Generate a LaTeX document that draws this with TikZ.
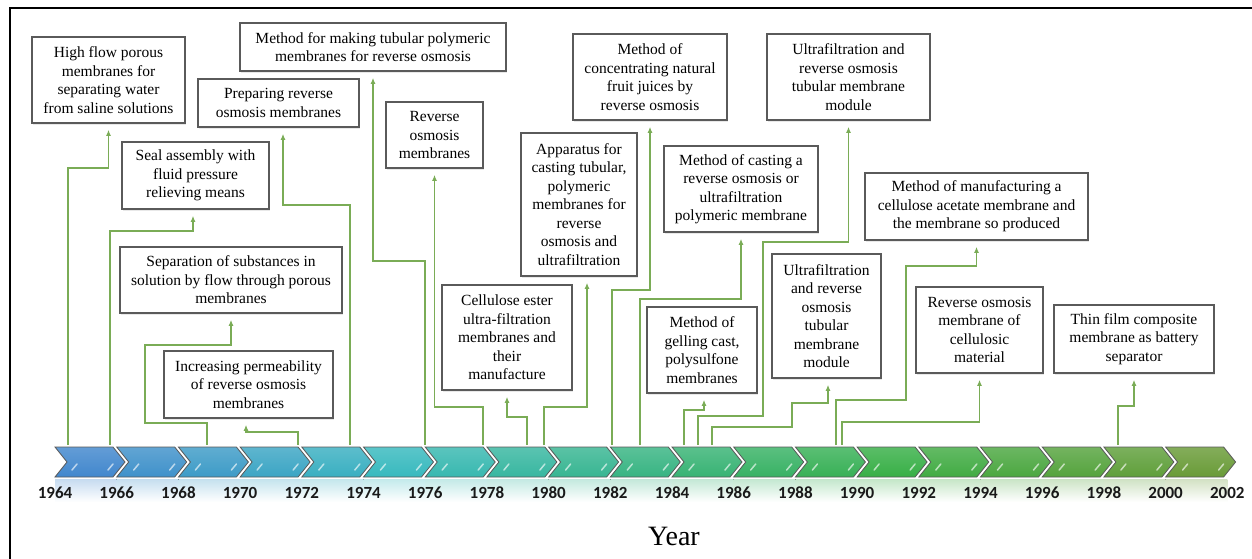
\documentclass[tikz,border=0pt]{standalone}
\usepackage{fontspec}
\setmainfont{Liberation Serif}
\newfontfamily\yearfont{Carlito}
\usetikzlibrary{arrows.meta,shadows}

\definecolor{tlblue}{RGB}{65,135,205}
\definecolor{tlteal}{RGB}{55,185,190}
\definecolor{tlgreen}{RGB}{55,175,70}
\definecolor{tlolive}{RGB}{105,155,55}
\definecolor{linkgreen}{RGB}{122,172,86}
\definecolor{boxgray}{RGB}{90,90,90}

\tikzset{
  pbox/.style={draw=boxgray,line width=1.6pt,fill=white,align=center,inner sep=2pt,
    font={\rmfamily\fontsize{15.5}{18.5}\selectfont},
    drop shadow={opacity=0.18,shadow xshift=1.2pt,shadow yshift=-1.5pt}},
  conn/.style={draw=linkgreen,line width=1.6pt,-{Latex[length=6pt,width=5pt]},shorten >=6pt},
  yrlbl/.style={font={\yearfont\bfseries\fontsize{17}{17}\selectfont},text=black!90}
}

\begin{document}
\begin{tikzpicture}[x=1pt,y=-1pt]

\useasboundingbox (0,0) rectangle (1252,558);
\draw[line width=2.5pt] (10,580) -- (10,8) -- (1260,8);

\foreach \k in {0,...,18}
	{\pgfmathsetmacro\x{55+61.7*\k}
	\pgfmathtruncatemacro\p{min(100,\k*20)}
	\pgfmathtruncatemacro\q{min(100,max(0,(\k-5)*12.5))}
	\pgfmathtruncatemacro\r{max(0,(\k-13)*20)}
	\colorlet{ca}{tlteal!\p!tlblue}
	\colorlet{cb}{tlgreen!\q!ca}
	\colorlet{cc}{tlolive!\r!cb}
	\fill[top color=cc!30!white,bottom color=white] (\x,479) rectangle (\x+61.7,502);
	\draw[black!65,line width=0.8pt,top color=cc!82!white,bottom color=cc]
		(\x,447) -- ++(58,0) -- ++(12,15) -- ++(-12,15) -- ++(-58,0) -- ++(12,-15) -- cycle;
	\draw[cc!35!white,line width=1.5pt,line cap=round] (\x+17,470) -- ++(5,-6);
	\draw[cc!35!white,line width=1.5pt,line cap=round] (\x+53,470) -- ++(5,-6);}
\foreach \k in {0,...,19}
	{\pgfmathtruncatemacro\yr{1964+2*\k}
	\node[yrlbl] (y\yr) at ({55+61.7*\k},493) {\yr};}
\node[font={\rmfamily\fontsize{28}{28}\selectfont}] (year) at (674,536) {Year};

\node[pbox,minimum width=153pt,minimum height=86pt] (hiflow) at (108.5,80) {High flow porous\\membranes for\\separating water\\from saline solutions};
\node[pbox,minimum width=266pt,minimum height=48pt] (tubmake) at (373,47) {Method for making tubular polymeric\\membranes for reverse osmosis};
\node[pbox,minimum width=161pt,minimum height=48pt] (prepro) at (278.5,103) {Preparing reverse\\osmosis membranes};
\node[pbox,minimum width=147pt,minimum height=67pt] (seal) at (195.5,175.5) {Seal assembly with\\fluid pressure\\relieving means};
\node[pbox,minimum width=222pt,minimum height=66pt] (sepsub) at (231,280) {Separation of substances in\\solution by flow through porous\\membranes};
\node[pbox,minimum width=169pt,minimum height=67pt] (permeab) at (248.5,384.5) {Increasing permeability\\of reverse osmosis\\membranes};
\node[pbox,minimum width=97pt,minimum height=66pt] (romem) at (434.5,135) {Reverse\\osmosis\\membranes};
\node[pbox,minimum width=130pt,minimum height=105pt] (cellest) at (507,337.5) {Cellulose ester\\ultra-filtration\\membranes and\\their\\manufacture};
\node[pbox,minimum width=116pt,minimum height=143pt] (castapp) at (579,204.5) {Apparatus for\\casting tubular,\\polymeric\\membranes for\\reverse\\osmosis and\\ultrafiltration};
\node[pbox,minimum width=154pt,minimum height=86pt] (juices) at (650,77) {Method of\\concentrating natural\\fruit juices by\\reverse osmosis};
\node[pbox,minimum width=154pt,minimum height=86pt] (castro) at (741,189) {Method of casting a\\reverse osmosis or\\ultrafiltration\\polymeric membrane};
\node[pbox,minimum width=163pt,minimum height=86pt] (uftube) at (848.5,77) {Ultrafiltration and\\reverse osmosis\\tubular membrane\\module};
\node[pbox,minimum width=110pt,minimum height=86pt] (gelcast) at (702,350) {Method of\\gelling cast,\\polysulfone\\membranes};
\node[pbox,minimum width=109pt,minimum height=124pt] (uftubeb) at (826.5,316) {Ultrafiltration\\and reverse\\osmosis\\tubular\\membrane\\module};
\node[pbox,minimum width=223pt,minimum height=67pt] (acetate) at (976.5,206.5) {Method of manufacturing a\\cellulose acetate membrane and\\the membrane so produced};
\node[pbox,minimum width=127pt,minimum height=86pt] (cellmat) at (979.5,330) {Reverse osmosis\\membrane of\\cellulosic\\material};
\node[pbox,minimum width=160pt,minimum height=68pt] (thinfilm) at (1134,339) {Thin film composite\\membrane as battery\\separator};

\foreach \n/\x in {s1/68,s2/110,s3/207,s4/298,s5/350,s6/425,s7/483,s8/527,s9/544,
	s10/612,s11/640,s12/684,s13/698,s14/712,s15/836,s16/842,s17/1118}
	\coordinate (\n) at (\x,445);

\draw[conn] (s1) |- (hiflow.south |- 0,168) -- (hiflow.south);
\draw[conn] (s2) |- ([xshift=-2.5pt]seal.south |- 0,231) -- ([xshift=-2.5pt]seal.south);
\draw[conn] (s3) |- (145,423) |- (sepsub.south |- 0,345) -- (sepsub.south);
\draw[conn] (s4) |- ([xshift=-2.5pt]permeab.south |- 0,432) -- ([xshift=-2.5pt]permeab.south);
\draw[conn] (s5) |- ([xshift=4.5pt]prepro.south |- 0,205) -- ([xshift=4.5pt]prepro.south);
\draw[conn] (s6) |- (tubmake.south |- 0,261) -- (tubmake.south);
\draw[conn] (s7) |- (romem.south |- 0,407) -- (romem.south);
\draw[conn] (s8) |- (cellest.south |- 0,417) -- (cellest.south);
\draw[conn] (s9) |- ([xshift=8pt]castapp.south |- 0,407) -- ([xshift=8pt]castapp.south);
\draw[conn] (s10) |- (juices.south |- 0,290) -- (juices.south);
\draw[conn] (s11) |- (castro.south |- 0,299) -- (castro.south);
\draw[conn] (s12) |- ([xshift=2pt]gelcast.south |- 0,410) -- ([xshift=2pt]gelcast.south);
\draw[conn] (s13) |- (763,416) |- (uftube.south |- 0,242) -- (uftube.south);
\draw[conn] (s14) |- (792,427) |- ([xshift=1.5pt]uftubeb.south |- 0,403) -- ([xshift=1.5pt]uftubeb.south);
\draw[conn] (s15) |- (906,400) |- (acetate.south |- 0,266) -- (acetate.south);
\draw[conn] (s16) |- (cellmat.south |- 0,422) -- (cellmat.south);
\draw[conn] (s17) |- (thinfilm.south |- 0,406) -- (thinfilm.south);

\end{tikzpicture}
\end{document}
